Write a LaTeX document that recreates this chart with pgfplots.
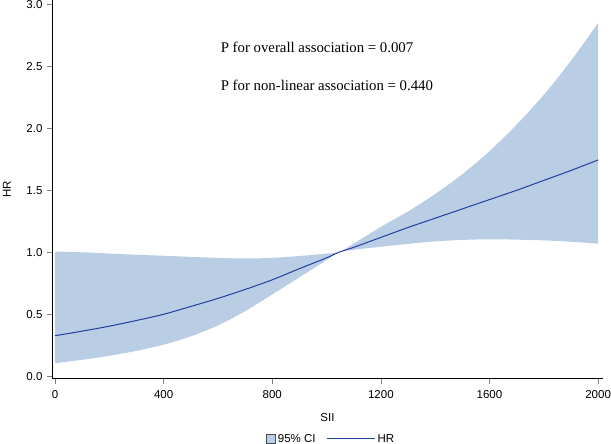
\documentclass[border=0pt]{standalone}
\usepackage{fontspec}
\setmainfont{Liberation Sans}
\newfontfamily\timesfont{Liberation Serif}
\usepackage{pgfplots}
\pgfplotsset{compat=1.18}
\usepgfplotslibrary{fillbetween}
\usepackage{pgfplotstable}
\definecolor{cifill}{RGB}{185,205,229}
\definecolor{hrline}{RGB}{32,64,160}

\pgfplotstableread{
x    hr     lo     up
0    0.327  0.105  1.006
100  0.364  0.133  1.000
200  0.404  0.165  0.990
300  0.450  0.205  0.980
400  0.500  0.255  0.972
500  0.563  0.322  0.963
600  0.628  0.410  0.955
700  0.700  0.525  0.950
800  0.778  0.660  0.955
900  0.868  0.798  0.970
1000 0.955  0.937  0.990
1045 1.000  1.000  1.000
1100 1.040  1.020  1.070
1200 1.120  1.045  1.205
1300 1.200  1.068  1.330
1400 1.275  1.088  1.470
1500 1.350  1.100  1.630
1600 1.425  1.105  1.815
1700 1.500  1.102  2.030
1800 1.580  1.096  2.270
1900 1.660  1.085  2.545
2000 1.745  1.070  2.850
}\datatable

\begin{document}
\begin{tikzpicture}
\begin{axis}[
  at={(0,0)}, anchor=south west,
  scale only axis,
  width=551pt, height=379pt,
  xmin=-11, xmax=2018,
  ymin=-0.022, ymax=3.035,
  axis lines=left,
  axis line style={-, black, line width=1pt},
  tick align=outside,
  major tick length=5pt,
  tick style={gray, line width=0.6pt},
  xtick={0,400,800,1200,1600,2000},
  ytick={0,0.5,1,1.5,2,2.5,3},
  /pgf/number format/assume math mode=true,
  xticklabel style={/pgf/number format/1000 sep={}, yshift=-3pt},
  yticklabel style={/pgf/number format/fixed, /pgf/number format/precision=1, /pgf/number format/fixed zerofill, xshift=-1pt},
  tick label style={font=\fontsize{11.5}{13}\selectfont},
  xlabel={SII},
  ylabel={HR},
  label style={font=\fontsize{11.5}{13}\selectfont},
  xlabel style={at={(axis description cs:0.5,-0.103)}, anchor=center},
  ylabel style={at={(axis description cs:-0.0817,0.5)}, anchor=center},
  legend columns=2,
  legend style={at={(axis description cs:0.507,-0.158)}, anchor=center, draw=none,
    font=\fontsize{11.5}{13}\selectfont,
    /tikz/every even column/.append style={column sep=9pt}},
]
\addplot[name path=up, draw=none, smooth, forget plot] table[x=x, y=up] {\datatable};
\addplot[name path=lo, draw=none, smooth, forget plot] table[x=x, y=lo] {\datatable};
\addplot[fill=cifill, draw=none, forget plot] fill between[of=up and lo];
\addplot[hrline, line width=1pt, smooth, forget plot] table[x=x, y=hr] {\datatable};

\addlegendimage{legend image code/.code={\draw[fill=cifill, draw=black!70, line width=0.5pt] (-3pt,-4.5pt) rectangle (6pt,4.5pt);}}
\addlegendentry{95\% CI}
\addlegendimage{legend image code/.code={\draw[hrline, line width=1pt] (-2pt,0pt) -- (46pt,0pt);}}
\addlegendentry{HR}

\node[anchor=base west, font=\timesfont\fontsize{14.8}{17}\selectfont, inner sep=0pt] at (axis description cs:0.306,0.861) {P for overall association = 0.007};
\node[anchor=base west, font=\timesfont\fontsize{14.8}{17}\selectfont, inner sep=0pt] at (axis description cs:0.306,0.7625) {P for non-linear association = 0.440};
\end{axis}
\pgfresetboundingbox
\useasboundingbox (-52pt,-65pt) rectangle (559pt,379pt);
\end{tikzpicture}
\end{document}
